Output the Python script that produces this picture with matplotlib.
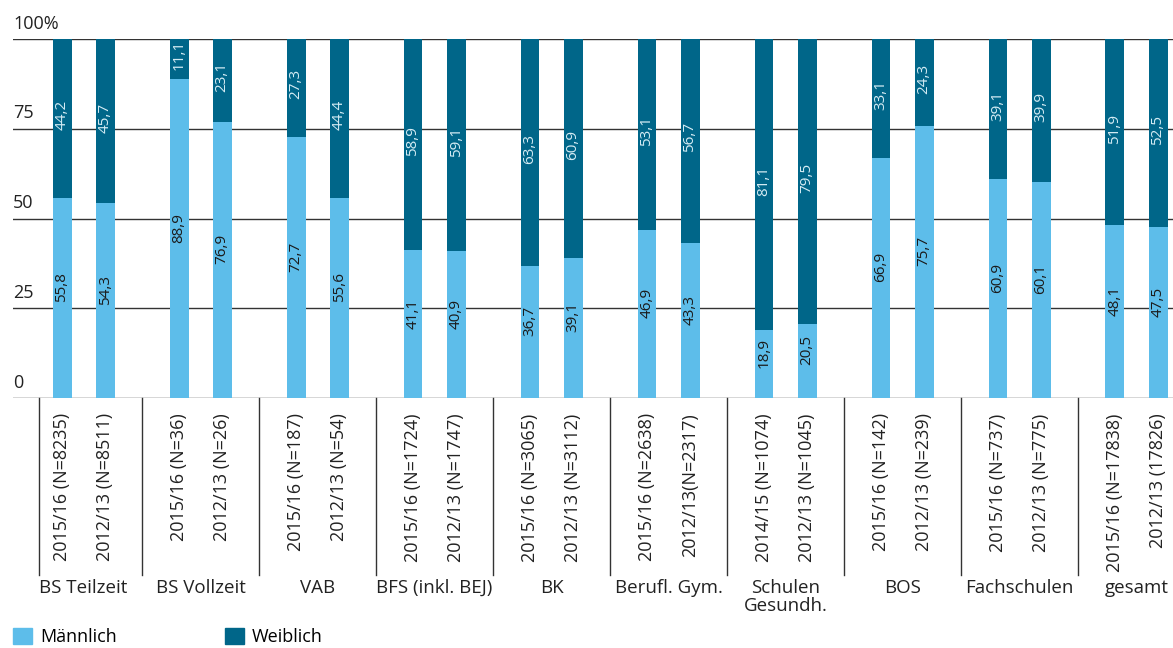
import numpy as np
import matplotlib.pyplot as plt
from matplotlib.patches import Patch

plt.rcParams['font.family'] = ['Open Sans', 'DejaVu Sans']

# Daten
gruppen = ['BS Teilzeit', 'BS Vollzeit', 'VAB', 'BFS (inkl. BEJ)', 'BK',
           'Berufl. Gym.', 'Schulen\nGesundh.', 'BOS', 'Fachschulen', 'gesamt']
jahr_labels = [
    ['2015/16 (N=8235)', '2012/13 (N=8511)'],
    ['2015/16 (N=36)', '2012/13 (N=26)'],
    ['2015/16 (N=187)', '2012/13 (N=54)'],
    ['2015/16 (N=1724)', '2012/13 (N=1747)'],
    ['2015/16 (N=3065)', '2012/13 (N=3112)'],
    ['2015/16 (N=2638)', '2012/13(N=2317)'],
    ['2014/15 (N=1074)', '2012/13 (N=1045)'],
    ['2015/16 (N=142)', '2012/13 (N=239)'],
    ['2015/16 (N=737)', '2012/13 (N=775)'],
    ['2015/16 (N=17838)', '2012/13 (17826)'],
]
maennlich = [55.8, 54.3, 88.9, 76.9, 72.7, 55.6, 41.1, 40.9, 36.7, 39.1,
             46.9, 43.3, 18.9, 20.5, 66.9, 75.7, 60.9, 60.1, 48.1, 47.5]
weiblich = [44.2, 45.7, 11.1, 23.1, 27.3, 44.4, 58.9, 59.1, 63.3, 60.9,
            53.1, 56.7, 81.1, 79.5, 33.1, 24.3, 39.1, 39.9, 51.9, 52.5]

hell = '#5dbdea'
dunkel = '#006689'

def fmt(v):
    return f'{v:.1f}'.replace('.', ',')

fig = plt.figure(figsize=(11.73, 6.48), dpi=100)
ax = fig.add_axes([0.0111, 0.3858, 0.9889, 0.554])

n = len(gruppen)
x = []
labels = []
for i in range(n):
    x += [i - 0.184, i + 0.184]
    labels += jahr_labels[i]
x = np.array(x)
m = np.array(maennlich)
w = np.array(weiblich)
breite = 0.162

ax.bar(x, m, width=breite, color=hell, zorder=3)
ax.bar(x, w, width=breite, bottom=m, color=dunkel, zorder=3)

for xi, mi, wi in zip(x, m, w):
    ax.text(xi, mi / 2 + 3, fmt(mi), rotation=90, ha='center', va='center',
            fontsize=11, color='#1a1a1a', zorder=4)
    ax.text(xi, mi + wi / 2 + 1, fmt(wi), rotation=90, ha='center', va='center',
            fontsize=11, color='#d5ecf4', zorder=4)

ax.set_xlim(-0.603, 9.312)
ax.set_ylim(0, 100)

# Gitterlinien und Y-Beschriftung
for y in [0, 25, 50, 75, 100]:
    ax.axhline(y, color='#333333', lw=1, zorder=1)
for y, t in zip([0, 25, 50, 75, 100], ['0', '25', '50', '75', '100%']):
    ax.text(0.0, y + 1.8, t, transform=ax.get_yaxis_transform(), ha='left',
            va='bottom', fontsize=13, color='#222222')

for s in ax.spines.values():
    s.set_visible(False)
ax.set_yticks([])
ax.set_xticks(x)
ax.set_xticklabels(labels, rotation=90, fontsize=13, color='#222222')
ax.tick_params(axis='x', length=0, pad=11)

# Trennlinien zwischen Gruppen
trans = ax.get_xaxis_transform()
for g in [-0.38] + [i + 0.5 for i in range(n - 1)]:
    ax.plot([g, g], [0, -0.493], transform=trans, color='#333333', lw=1,
            clip_on=False)
for i, g in enumerate(gruppen):
    ax.text(i, -0.503, g, transform=trans, ha='center', va='top',
            fontsize=13.5, color='#222222', linespacing=1.0)

fig.legend(handles=[Patch(color=hell, label='Männlich'),
                    Patch(color=dunkel, label='Weiblich')],
           loc='lower left', bbox_to_anchor=(0.011, 0.003), ncol=2, frameon=False,
           fontsize=13, handlelength=1.05, handleheight=1.05,
           handletextpad=0.45, columnspacing=6.0, borderpad=0, borderaxespad=0)

fig.savefig('out.png', dpi=100)
